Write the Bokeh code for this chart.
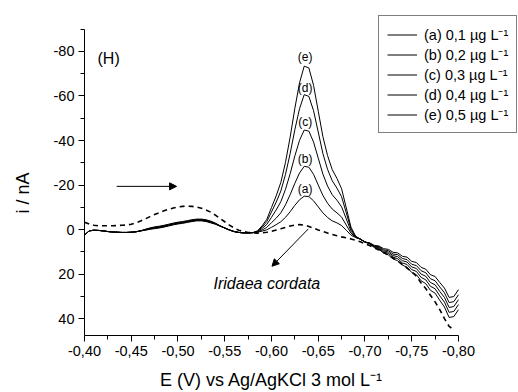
from bokeh.plotting import figure
from bokeh.models import Range1d, FixedTicker, Legend, LegendItem, Label, Arrow, NormalHead
from bokeh.embed import file_html
from bokeh.resources import INLINE

# Potential axis (V), 0.005 V steps from -0.400 to -0.800
E = [round(-0.400 - 0.005 * i, 3) for i in range(81)]

curve_a = [2.5, 0.6, 0.3, 0.4, 0.6, 0.9, 1.1, 1.2, 1.3, 1.3, 1.2, 1.0, 0.6,
           0.3, -0.1, -0.4, -0.7, -1.1, -1.6, -2.1, -2.5, -2.8, -3.2, -3.6, -3.9, -3.9, -3.6, -3.0, -2.4, -1.5,
           -0.7, 0.2, 0.9, 1.3, 1.5, 1.5, 1.4,
           1.2, 0.7, 0.1, -1.0, -2.2, -3.5, -5.5, -8.0, -10.9, -13.4, -15.0, -14.8, -12.9, -10.2, -7.5,
           -5.4, -3.9, -3.0, -1.8, 0.3, 2.5, 3.6, 4.3,
           5.6, 6.5, 8.1, 8.9, 10.6, 11.4, 13.2, 14.0, 16.0, 16.9, 19.3, 20.3, 23.0, 24.3, 27.3, 28.6,
           31.8, 34.8, 39.5, 39.1, 36.0]
curve_b = [2.5, 0.6, 0.3, 0.4, 0.6, 0.9, 1.1, 1.2, 1.3, 1.3, 1.2, 1.0, 0.6,
           0.2, -0.3, -0.6, -0.9, -1.3, -1.8, -2.3, -2.7, -3.0, -3.4, -3.8, -4.1, -4.1, -3.8, -3.2, -2.5, -1.6,
           -0.7, 0.2, 0.9, 1.3, 1.5, 1.5, 1.4,
           1.1, 0.2, -1.0, -3.1, -5.1, -7.5, -11.1, -15.7, -20.8, -25.4, -28.4, -28.0, -24.8, -20.0, -15.3,
           -11.8, -9.2, -7.5, -5.6, -2.0, 1.6, 3.5, 4.3,
           5.6, 6.3, 7.8, 8.5, 10.1, 10.7, 12.4, 13.1, 15.0, 15.7, 18.0, 18.8, 21.5, 22.6, 25.5, 26.6,
           29.8, 32.6, 37.2, 36.8, 33.7]
curve_c = [2.5, 0.6, 0.3, 0.4, 0.6, 0.9, 1.1, 1.2, 1.3, 1.3, 1.2, 1.0, 0.6,
           0.1, -0.4, -0.8, -1.1, -1.5, -2.0, -2.5, -2.9, -3.2, -3.6, -4.0, -4.3, -4.3, -4.0, -3.4, -2.6, -1.6,
           -0.7, 0.2, 0.9, 1.3, 1.5, 1.5, 1.4,
           0.9, -0.5, -2.3, -5.5, -8.8, -12.5, -18.1, -25.1, -33.1, -40.1, -44.7, -44.2, -39.3, -32.1, -24.9,
           -19.5, -15.6, -13.2, -10.2, -4.8, 0.7, 3.3, 4.3,
           5.6, 6.2, 7.6, 8.1, 9.6, 10.1, 11.7, 12.2, 14.0, 14.6, 16.8, 17.5, 20.0, 21.0, 23.8, 24.8,
           27.8, 30.5, 35.0, 34.6, 31.5]
curve_d = [2.5, 0.6, 0.3, 0.4, 0.6, 0.9, 1.1, 1.2, 1.3, 1.3, 1.2, 1.0, 0.6,
           0.0, -0.6, -1.0, -1.3, -1.7, -2.2, -2.7, -3.1, -3.4, -3.8, -4.2, -4.5, -4.5, -4.2, -3.6, -2.7, -1.7,
           -0.7, 0.2, 0.9, 1.3, 1.5, 1.5, 1.4,
           0.8, -1.1, -3.6, -7.9, -12.3, -17.3, -24.8, -34.2, -44.9, -54.3, -60.6, -59.8, -53.4, -43.8, -34.1,
           -27.0, -21.9, -18.6, -14.7, -7.5, -0.3, 3.2, 4.3,
           5.6, 6.1, 7.4, 7.7, 9.1, 9.5, 11.0, 11.3, 13.0, 13.5, 15.6, 16.2, 18.5, 19.4, 22.1, 23.0,
           25.8, 28.4, 32.8, 32.4, 29.3]
curve_e = [2.5, 0.6, 0.3, 0.4, 0.6, 0.9, 1.1, 1.2, 1.3, 1.3, 1.2, 1.0, 0.6,
           -0.1, -0.7, -1.2, -1.5, -1.9, -2.4, -2.9, -3.3, -3.6, -4.0, -4.4, -4.7, -4.7, -4.4, -3.8, -2.9, -1.7,
           -0.7, 0.2, 0.9, 1.3, 1.5, 1.5, 1.4,
           0.6, -1.7, -4.6, -9.9, -15.1, -21.2, -30.2, -41.6, -54.5, -65.9, -73.4, -72.6, -64.8, -53.2, -41.7,
           -33.2, -26.9, -23.0, -18.3, -9.7, -1.1, 3.0, 4.3,
           5.6, 6.0, 7.1, 7.4, 8.6, 8.9, 10.2, 10.5, 12.0, 12.4, 14.3, 14.8, 17.0, 17.8, 20.3, 21.1,
           23.8, 26.3, 30.5, 30.1, 27.0]
# Blank (Iridaea cordata), dashed
blank = [-3.3, -2.5, -1.9, -1.7, -1.7, -1.7, -1.7, -1.8, -1.9, -2.0,
         -2.4, -3.0, -3.8, -4.8, -5.8, -6.8, -7.6, -8.4, -9.1, -9.7,
         -10.1, -10.4, -10.5, -10.4, -10.1, -9.6, -8.8, -7.8, -6.5, -5.0,
         -3.5, -2.0, -0.7, 0.3, 0.9, 1.3, 1.5, 1.6, 1.5, 1.2,
         0.8, 0.2, -0.4, -1.0, -1.6, -2.0, -2.2, -2.0, -1.4, -0.6,
         0.2, 0.9, 1.6, 2.2, 2.8, 3.3, 3.7, 4.2, 4.8, 5.5,
         6.3, 7.2, 8.2, 9.2, 10.3, 11.5, 12.8, 14.2, 15.7, 17.3,
         19.0, 20.9, 24.0, 26.5, 29.5, 32.5, 36.0, 40.0, 43.5, 45.0]

series_labels = ["(a) 0,1 \u00b5g L\u207b\u00b9", "(b) 0,2 \u00b5g L\u207b\u00b9",
                 "(c) 0,3 \u00b5g L\u207b\u00b9", "(d) 0,4 \u00b5g L\u207b\u00b9",
                 "(e) 0,5 \u00b5g L\u207b\u00b9"]
peak_tags = ["(a)", "(b)", "(c)", "(d)", "(e)"]
peak_tag_y = [-18.2, -31.7, -48.1, -63.8, -77.3]
peak_tag_x = -0.636

x_major = [-0.40, -0.45, -0.50, -0.55, -0.60, -0.65, -0.70, -0.75, -0.80]
x_minor = [-0.425, -0.475, -0.525, -0.575, -0.625, -0.675, -0.725, -0.775]
y_major = [-80, -60, -40, -20, 0, 20, 40]
y_minor = [-90, -70, -50, -30, -10, 10, 30]

x_title = "E (V) vs Ag/AgKCl 3 mol L\u207b\u00b9"
y_title = "i / nA"

FONT = "Liberation Sans"
NB = "\u00a0"

p = figure(width=518, height=392, output_backend="svg", toolbar_location=None,
           x_range=Range1d(-0.40, -0.8642), y_range=Range1d(47.6, -102.9),
           min_border_left=84, min_border_right=0, min_border_top=0, min_border_bottom=57)
p.outline_line_color = None
p.xgrid.visible = False
p.ygrid.visible = False
p.background_fill_color = "white"
p.border_fill_color = "white"

for ax, bounds, major, minor in ((p.xaxis[0], (-0.80, -0.40), x_major, x_minor),
                                 (p.yaxis[0], (-90, 47.6), y_major, y_minor)):
    ax.bounds = bounds
    ax.ticker = FixedTicker(ticks=major, minor_ticks=minor)
    ax.axis_line_color = "black"
    ax.axis_line_width = 1
    ax.major_tick_line_color = "black"
    ax.minor_tick_line_color = "black"
    ax.major_tick_out = 6
    ax.major_tick_in = 0
    ax.minor_tick_out = 4
    ax.minor_tick_in = 0
    ax.major_label_text_font = FONT
    ax.major_label_text_font_size = "14.5px"
    ax.major_label_text_color = "black"
    ax.major_label_standoff = 4
    ax.axis_label_text_font = FONT
    ax.axis_label_text_font_size = "18px"
    ax.axis_label_text_font_style = "normal"
    ax.axis_label_text_color = "black"

p.xaxis[0].major_label_overrides = {v: ("%.2f" % v).replace(".", ",") for v in x_major}
p.yaxis[0].major_label_overrides = {v: str(v) for v in y_major}
p.xaxis[0].axis_label = x_title + NB * 12
p.xaxis[0].axis_label_standoff = 11
p.yaxis[0].axis_label = y_title + NB * 10
p.yaxis[0].axis_label_standoff = 18

renderers = []
for ys in (curve_a, curve_b, curve_c, curve_d, curve_e):
    r = p.line(E, ys, line_color="black", line_width=1)
    renderers.append(r)

p.line(E[:len(blank)], blank, line_color="black", line_width=1.6, line_dash="5 4")

for t, ty in zip(peak_tags, peak_tag_y):
    p.add_layout(Label(x=peak_tag_x, y=ty, text=t, text_font=FONT, text_font_size="12px",
                       text_align="center", text_baseline="middle", text_color="black"))

p.add_layout(Label(x=-0.4139, y=-76.9, text="(H)", text_font=FONT, text_font_size="16px",
                   text_baseline="middle", text_color="black"))
p.add_layout(Label(x=-0.538, y=24.3, text="Iridaea cordata", text_font=FONT,
                   text_font_size="16px", text_font_style="italic",
                   text_baseline="middle", text_color="black"))

p.add_layout(Arrow(x_start=-0.4344, y_start=-19.4, x_end=-0.4985, y_end=-19.4,
                   line_color="black", line_width=1,
                   end=NormalHead(size=7, fill_color="black", line_color="black")))
p.add_layout(Arrow(x_start=-0.6394, y_start=-0.3, x_end=-0.6005, y_end=16.5,
                   line_color="black", line_width=1,
                   end=NormalHead(size=7, fill_color="black", line_color="black")))

legend = Legend(items=[LegendItem(label=l, renderers=[r]) for l, r in zip(series_labels, renderers)],
                location=(294, 202), orientation="vertical",
                label_text_font=FONT, label_text_font_size="14.5px", label_text_color="black",
                glyph_width=30, glyph_height=17, label_height=17, spacing=0, padding=8,
                margin=0, label_standoff=7, border_line_color="black", border_line_width=1,
                background_fill_color="white", background_fill_alpha=1.0)
p.add_layout(legend)

open("out.html", "w").write(file_html(p, INLINE))
